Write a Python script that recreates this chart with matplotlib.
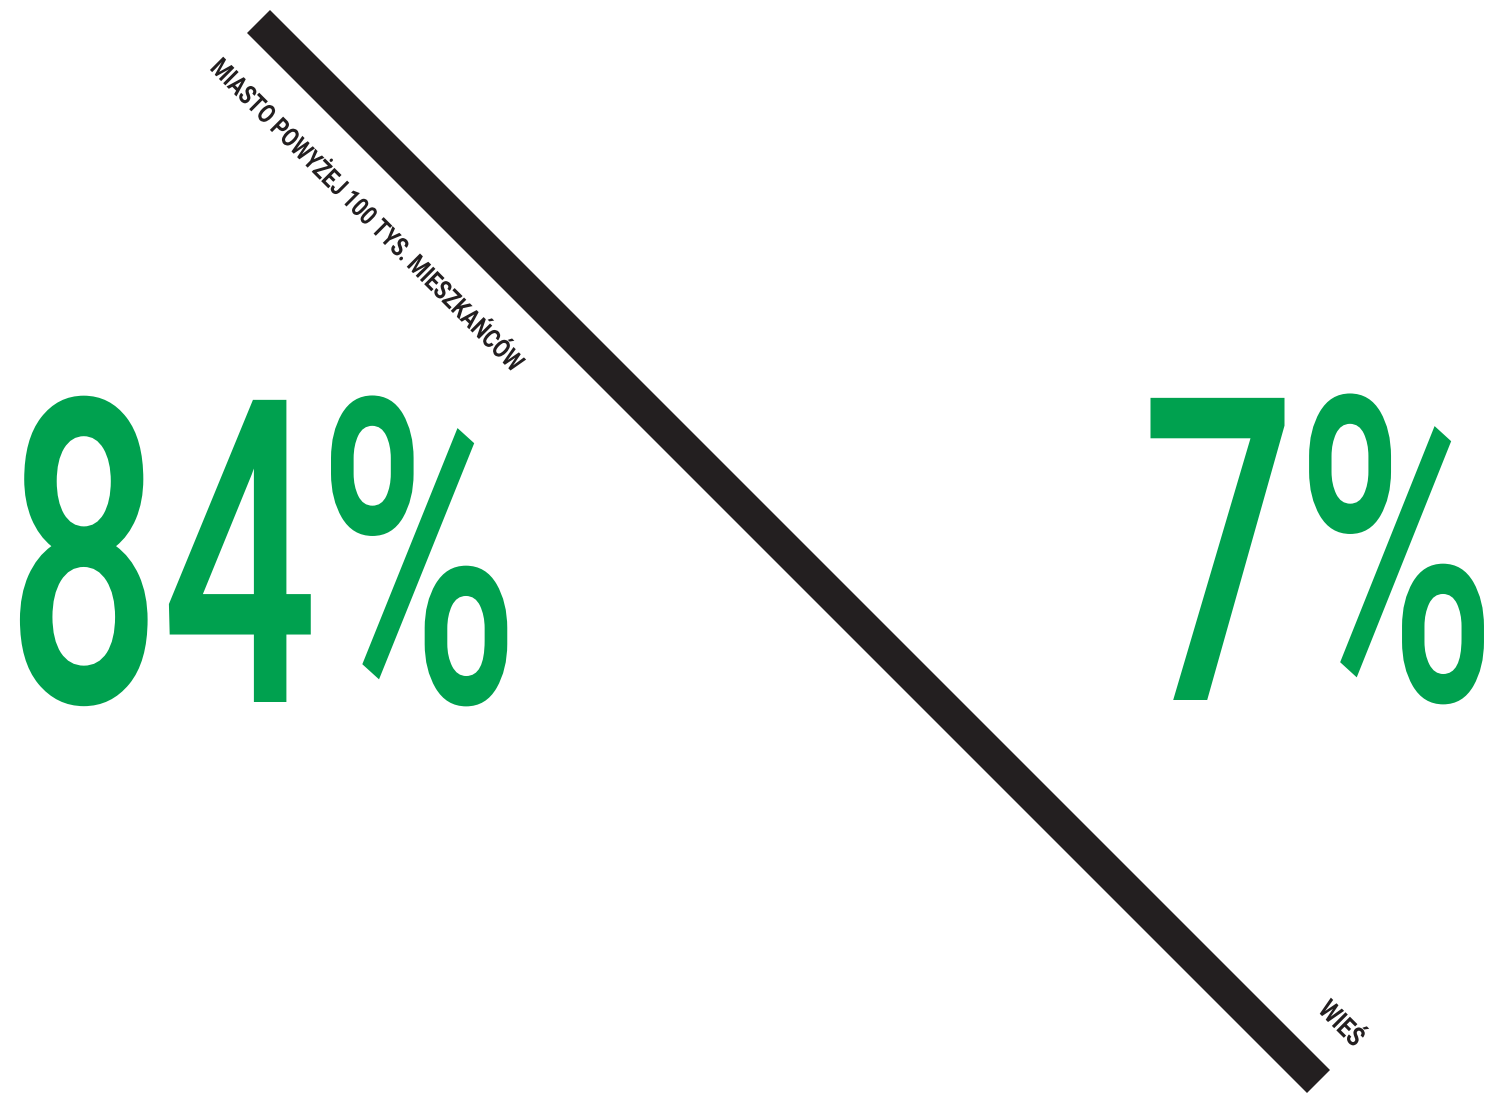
import matplotlib
matplotlib.use("Agg")
import matplotlib.pyplot as plt
import matplotlib.patheffects as pe
from matplotlib.transforms import Affine2D

# DANE
categories = ["MIASTO POWYŻEJ 100 TYS. MIESZKAŃCÓW", "WIEŚ"]
values = [84, 7]

GREEN = "#00A14F"
DARK = "#231F20"
FONT = ["Roboto", "DejaVu Sans"]


class Squeeze(pe.AbstractPathEffect):
    # zwęża tekst w kierunku pisania (imitacja kroju "condensed")
    def __init__(self, sx, right=False, dx=0):
        super().__init__()
        self.sx = sx
        self.right = right
        self.dx = dx

    def draw_path(self, renderer, gc, tpath, affine, rgbFace=None):
        x0 = tpath.get_extents().x1 if self.right else 0
        sq = Affine2D().translate(-x0, 0).scale(self.sx, 1).translate(x0, 0)
        renderer.draw_path(gc, tpath, sq + affine + Affine2D().translate(self.dx, 0), rgbFace)


fig = plt.figure(figsize=(14.87, 10.94), dpi=100)
ax = fig.add_axes([0, 0, 1, 1])
ax.set_xlim(0, 1487)
ax.set_ylim(1094, 0)
ax.axis("off")

# ukośna belka
ax.plot([258.5, 1318.5], [21.5, 1081.5], color=DARK, lw=23.4, solid_capstyle="butt")

# etykiety wzdłuż belki
ax.text(209, 69, categories[0], fontsize=19, fontweight="bold", family=FONT,
        color=DARK, rotation=-45, rotation_mode="anchor", ha="left", va="baseline",
        path_effects=[Squeeze(0.8)])
ax.text(1317, 1011, categories[1], fontsize=19.5, fontweight="bold", family=FONT,
        color=DARK, rotation=-45, rotation_mode="anchor", ha="left", va="baseline",
        path_effects=[Squeeze(0.82)])

# duże wartości procentowe
ax.text(6, 702, f"{values[0]}%", fontsize=306, fontweight=500, family=FONT,
        color=GREEN, ha="left", va="baseline", path_effects=[Squeeze(0.645)])
ax.text(1486, 700, f"{values[1]}%", fontsize=306, fontweight=500, family=FONT,
        color=GREEN, ha="right", va="baseline", path_effects=[Squeeze(0.64, right=True, dx=16)])

fig.savefig("out.png", dpi=100)
